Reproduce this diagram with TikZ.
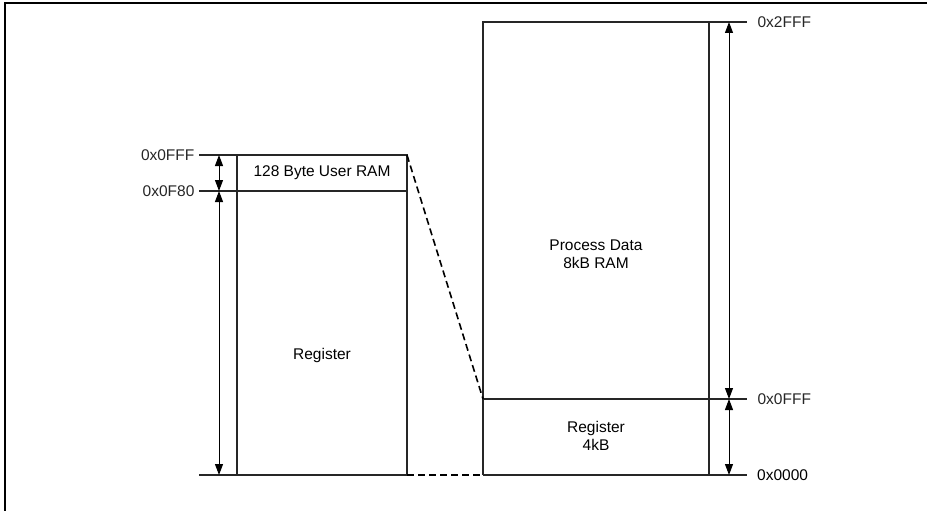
\documentclass[tikz,border=0pt]{standalone}
\usepackage{fontspec}
\setmainfont{Liberation Sans}
\usetikzlibrary{arrows.meta}

\tikzset{
  memline/.style={line width=1.2pt, color=black!85},
  dimarrow/.style={line width=1pt, {Triangle[length=11pt,width=8pt]}-{Triangle[length=11pt,width=8pt]}},
  addr/.style={font=\fontsize{15.5}{17}\selectfont, inner sep=0pt},
  boxtext/.style={font=\fontsize{15.5}{18}\selectfont, align=center, inner sep=0pt}
}

\begin{document}
\begin{tikzpicture}[x=1pt, y=-1pt]
  \useasboundingbox (0,0) rectangle (927,511);
  %% 1. Frame
  \draw[line width=1.5pt] (5,511) -- (5,3) -- (927,3);
  %% 2. Corners of the two memory maps
  \coordinate (LTL) at (237,155);
  \coordinate (LTR) at (407,155);
  \coordinate (LML) at (237,191);
  \coordinate (LMR) at (407,191);
  \coordinate (LBL) at (237,475);
  \coordinate (LBR) at (407,475);
  \coordinate (RTL) at (483,22);
  \coordinate (RTR) at (709,22);
  \coordinate (RML) at (483,399);
  \coordinate (RMR) at (709,399);
  \coordinate (RBL) at (483,475);
  \coordinate (RBR) at (709,475);
  %% 3. Boxes
  \draw[memline] (LBL) -- (LTL) -- (LTR) -- (LBR);
  \draw[memline] (LML) -- (LMR);
  \draw[memline] (RBL) -- (RTL) -- (RTR) -- (RBR);
  \draw[memline] (RML) -- (RMR);
  \draw[memline] (199,475) -- (LBL) -- (LBR);
  \draw[memline] (RBL) -- (RBR) -- (747,475);
  %% 4. Address ticks and labels
  \draw[memline] (LTL) -- (199,155) node[addr, anchor=east, xshift=-4pt] (a0fff) {0x0FFF};
  \draw[memline] (LML) -- (199,191) node[addr, anchor=east, xshift=-4pt] (a0f80) {0x0F80};
  \draw[memline] (RTR) -- (747,22) node[addr, anchor=west, xshift=10pt] (a2fff) {0x2FFF};
  \draw[memline] (RMR) -- (747,399) node[addr, anchor=west, xshift=10pt] (b0fff) {0x0FFF};
  \node[addr, anchor=west] (b0000) at (757,475) {0x0000};
  %% 5. Size arrows
  \draw[dimarrow] (219,155) -- (219,191);
  \draw[dimarrow] (219,191) -- (219,475);
  \draw[dimarrow] (729,22) -- (729,399);
  \draw[dimarrow] (729,399) -- (729,475);
  %% 6. Dashed mapping lines
  \draw[line width=1.6pt, dash pattern=on 7pt off 4pt] (LTR) -- (RML);
  \draw[line width=1.6pt, dash pattern=on 7pt off 4pt] (LBR) -- (RBL);
  %% 7. Box texts
  \node[boxtext] (userram) at (322,173) {128 Byte User RAM};
  \node[boxtext] (reg) at (322,355) {Register};
  \node[boxtext] (pdram) at (596,254) {Process Data\\8kB RAM};
  \node[boxtext] (reg4k) at (596,436) {Register\\4kB};
\end{tikzpicture}
\end{document}
